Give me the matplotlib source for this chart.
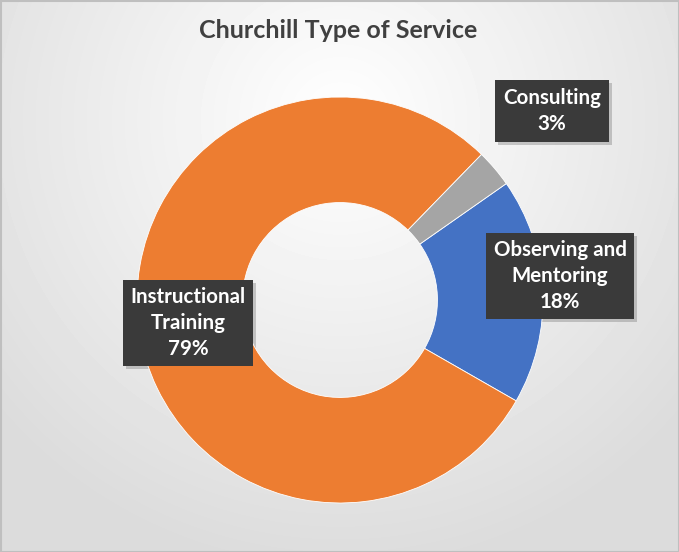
import numpy as np
from matplotlib import pyplot as plt
from matplotlib.patches import Rectangle

# data (clockwise order, starting at the blue slice)
categories = ["Observing and\nMentoring", "Instructional\nTraining", "Consulting"]
values = [18, 79, 3]
colors = ["#4472C4", "#ED7D31", "#A5A5A5"]

# label box centres in pie data coords
label_pos = [(1.084, 0.118), (-0.749, -0.113), (1.044, 0.931)]

plt.rcParams['font.family'] = ['Lato', 'DejaVu Sans']

W, H = 679, 552
fig = plt.figure(figsize=(W / 100, H / 100), dpi=100)

# background: soft radial gradient with a thin border
bg = fig.add_axes([0, 0, 1, 1])
yy, xx = np.mgrid[0:H, 0:W]
d = np.sqrt(((xx - 340) / 520.0) ** 2 + ((yy - 120) / 520.0) ** 2)
shade = np.clip(1.0 - 0.16 * d, 0.86, 1.0)
bg.imshow(shade, cmap='gray', vmin=0, vmax=1, extent=[0, W, H, 0], aspect='auto')
bg.set_xlim(0, W)
bg.set_ylim(H, 0)
bg.plot([0.5, W - 0.5, W - 0.5, 0.5, 0.5], [0.5, 0.5, H - 0.5, H - 0.5, 0.5],
        color='#bfbfbf', lw=1.5)
bg.axis('off')

cx, cy, r = 340, 300, 203
ax = fig.add_axes([(cx - r) / W, (H - cy - r) / H, 2 * r / W, 2 * r / H])
ax.pie(values, colors=colors, startangle=90 - 55, counterclock=False,
       radius=1.0, wedgeprops=dict(width=0.52, edgecolor='white', linewidth=0.6))
ax.set_xlim(-1, 1)
ax.set_ylim(-1, 1)
ax.axis('off')
ax.set_zorder(2)

labels = []
for name, v, (x, y) in zip(categories, values, label_pos):
    t = ax.text(x, y, f"{name}\n{v}%", ha='center', va='center', fontsize=14.8,
                fontweight='bold', color='white', linespacing=1.35,
                bbox=dict(boxstyle='square,pad=0.38', facecolor='#3a3a3a',
                          edgecolor='none'), zorder=6)
    labels.append(t)

fig.text(338 / W, 1 - 30 / H, "Churchill Type of Service", ha='center', va='center',
         fontsize=18, fontweight='bold', color='#404040')

# drop shadows behind the label boxes
fig.canvas.draw()
for t in labels:
    bb = t.get_bbox_patch().get_window_extent()
    fig.patches.append(Rectangle((bb.x0 + 3, bb.y0 - 3), bb.width, bb.height,
                                 transform=None, facecolor='#8c8c8c', alpha=0.45,
                                 edgecolor='none', zorder=1))

fig.savefig('out.png', dpi=100)
